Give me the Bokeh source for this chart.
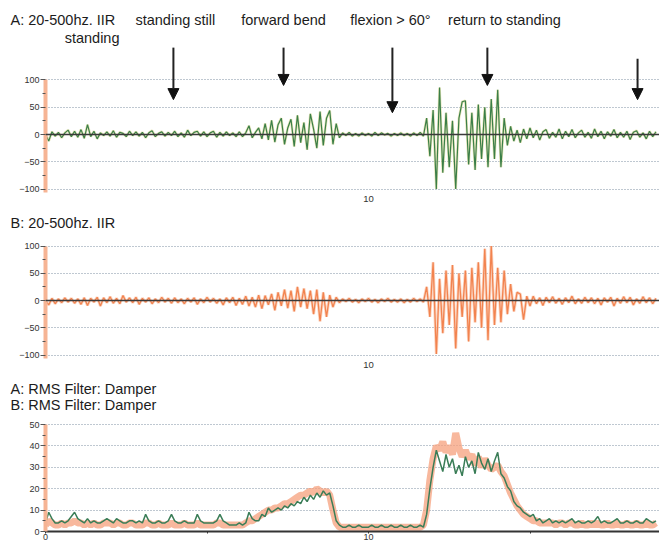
from bokeh.plotting import figure
from bokeh.layouts import column, row
from bokeh.models import Range1d, FixedTicker, Span, Label, Arrow, NormalHead
from bokeh.embed import file_html
from bokeh.resources import INLINE

# ---------------- data ----------------
sample_step = 0.1  # seconds between samples

a_iir = [
    0, -12, 5, -3, 4, -6, 3, 8, -4, 6,
    -5, 9, -7, 18, -4, 6, -8, 3, -2, 5,
    -3, 7, -5, 4, 2, -4, 6, -2, 5, -3,
    4, -6, 3, 7, -4, 2, 5, -3, 4, -2,
    6, -4, 3, -5, 8, -2, 4, 6, -3, 5,
    -4, 3, 6, -5, 4, -3, 5, -2, 3, -4,
    5, -4, 3, 16, -6, 4, 12, -8, 20, -10,
    26, -14, 18, 30, -18, 12, 28, -22, 35, -15,
    22, -28, 38, 10, -25, 42, -20, 30, 44, -18,
    20, -6, 3, -2, 4, -3, 2, -3, 3, -2,
    2, -3, 4, -2, 3, -1, 2, -3, 2, -2,
    3, -2, 2, -3, 3, -2, 4, -3, 30, -40,
    45, -100, 86, -70, 40, -60, 25, -100, 30, 60,
    62, -55, 40, -65, 55, -45, 50, -60, 65, -45,
    82, -60, 30, -20, 15, -12, 8, -15, 10, -8,
    12, -6, 8, -10, 5, 9, -7, 4, -5, 10,
    -8, 6, -4, 9, -6, 3, 8, -5, 4, -7,
    10, -4, 6, -8, 5, -3, 9, -6, 4, -5,
    6, -9, 4, 7, -5, 3, -8, 6, -4, 5,
]

b_iir = [
    0, -8, 4, -6, 3, -4, 5, -3, 4, -5,
    3, -7, 5, -9, 4, -3, 6, -10, 5, -4,
    7, -5, 4, -6, 9, -3, 5, -4, 6, -7,
    4, -3, 5, -6, 3, -4, 6, -3, 4, -5,
    5, -4, 3, -6, 4, -3, 5, -7, 3, -4,
    6, -3, 4, -5, 3, -8, 5, -4, 6, -9,
    4, -7, 8, -10, 6, -12, 10, -15, 9, -8,
    12, -18, 15, -10, 20, -14, 18, -20, 25, -12,
    22, -15, 18, -25, 20, -38, 15, -30, 10, -12,
    6, -4, 3, -2, 4, -3, 2, -4, 3, -2,
    4, -3, 2, -4, 3, -2, 4, -3, 2, -3,
    3, -4, 2, -3, 4, -2, 3, -3, 25, -30,
    70, -98, 40, -60, 55, -45, 65, -88, 50, -30,
    55, -75, 60, -40, 70, -50, 95, -73, 100, -45,
    60, -40, 55, -25, 30, -20, 15, 12, -35, 8,
    -10, 8, -6, 5, -9, 6, -4, 7, -5, 4,
    -7, 5, -4, 8, -6, 3, -5, 6, -4, 5,
    -6, 4, -8, 5, -3, 6, -10, 4, -5, 7,
    -4, 6, -8, 3, -5, 7, -4, 5, -6, 4,
]

a_rms = [
    4, 9, 6, 4, 4, 5, 4, 5, 7, 9,
    6, 5, 4, 6, 4, 5, 4, 4, 5, 6,
    5, 4, 6, 5, 4, 4, 5, 5, 4, 5,
    4, 8, 5, 4, 4, 5, 4, 4, 5, 8,
    5, 4, 4, 5, 4, 4, 4, 8, 5, 4,
    4, 4, 4, 5, 8, 5, 4, 3, 3, 3,
    4, 3, 4, 9, 6, 5, 5, 8, 7, 11,
    9, 10, 11, 10, 12, 11, 13, 12, 14, 13,
    16, 14, 17, 15, 18, 16, 19, 17, 18, 12,
    5, 3, 2, 2, 3, 2, 2, 3, 2, 2,
    2, 3, 2, 2, 3, 2, 2, 3, 2, 2,
    3, 2, 2, 3, 2, 2, 3, 2, 8, 20,
    30, 38, 33, 28, 36, 30, 34, 27, 31, 26,
    35, 30, 33, 27, 37, 32, 29, 34, 28, 33,
    37, 27, 25, 21, 19, 14, 12, 11, 9, 8,
    7, 8, 5, 6, 4, 5, 6, 4, 5, 4,
    5, 4, 5, 6, 4, 5, 4, 4, 5, 4,
    5, 7, 4, 5, 4, 4, 5, 6, 4, 4,
    5, 4, 4, 5, 4, 4, 6, 5, 4, 5,
]

b_rms = [
    3, 5, 4, 3, 3, 4, 3, 4, 4, 5,
    4, 4, 3, 4, 3, 4, 3, 3, 4, 4,
    4, 3, 4, 4, 3, 3, 4, 4, 3, 3,
    3, 4, 4, 3, 3, 4, 3, 3, 3, 4,
    3, 3, 3, 4, 3, 3, 3, 4, 3, 3,
    3, 3, 3, 4, 4, 3, 3, 3, 3, 3,
    3, 3, 4, 5, 5, 6, 7, 8, 9, 10,
    10, 11, 11, 12, 13, 13, 14, 15, 16, 17,
    17, 18, 19, 18, 20, 19, 18, 19, 17, 10,
    4, 2, 2, 2, 2, 2, 2, 2, 2, 2,
    2, 2, 2, 2, 2, 2, 2, 2, 2, 2,
    2, 2, 2, 2, 2, 2, 2, 3, 10, 24,
    34, 40, 38, 42, 37, 40, 36, 46, 39, 35,
    38, 34, 36, 31, 35, 30, 34, 31, 29, 30,
    31, 28, 26, 22, 18, 15, 12, 10, 8, 7,
    6, 5, 5, 4, 4, 4, 4, 4, 3, 4,
    4, 3, 4, 4, 3, 3, 4, 3, 3, 4,
    3, 4, 3, 3, 4, 3, 3, 4, 3, 3,
    4, 3, 3, 4, 3, 3, 4, 3, 3, 4,
]

t = [round(i * sample_step, 1) for i in range(len(a_iir))]

iir_ticks = [-100, -50, 0, 50, 100]
iir_minor = [-75, -25, 25, 75]
rms_ticks = [0, 10, 20, 30, 40, 50]
rms_minor = [5, 15, 25, 35, 45]

event_labels = ["standing still", "forward bend", "flexion > 60\u00b0", "return to standing"]
event_label_t = [4.02, 7.37, 10.68, 14.21]
arrow_t = [3.96, 7.37, 10.74, 13.68, 18.33]
arrow_top = [160, 160, 160, 160, 139]
arrow_tip = [64, 90, 40, 90, 64]

# ---------------- styling ----------------
FONT = "Liberation Sans"
TXT = "#1c1c1c"
GRID = "#7f90a3"
AXIS_ORANGE = "#f6b494"
LEFT = 45          # px to the left of the plot frames
PX_PER_S = 32.3    # horizontal scale
FW = 614
X_END = FW / PX_PER_S
X_START_HDR = -LEFT / PX_PER_S


def header(h):
    p = figure(frame_width=LEFT + FW, frame_height=h,
               x_range=Range1d(X_START_HDR, X_END), y_range=Range1d(0, h),
               output_backend="svg", toolbar_location=None,
               x_axis_location=None, y_axis_location=None,
               min_border_left=0, min_border_right=0, min_border_top=0,
               min_border_bottom=0)
    p.outline_line_color = None
    p.xgrid.visible = False
    p.ygrid.visible = False
    p.background_fill_color = "white"
    p.border_fill_color = "white"
    return p


def base_fig(frame_h, y0, y1, bottom_border):
    p = figure(frame_width=FW, frame_height=frame_h,
               x_range=Range1d(0, X_END), y_range=Range1d(y0, y1),
               output_backend="svg", toolbar_location=None,
               min_border_left=LEFT, min_border_right=0, min_border_top=0,
               min_border_bottom=bottom_border)
    p.outline_line_color = None
    p.background_fill_color = "white"
    p.border_fill_color = "white"
    p.xgrid.grid_line_color = None
    p.ygrid.grid_line_color = GRID
    p.ygrid.grid_line_dash = "1 2"
    p.ygrid.grid_line_width = 1.2
    p.yaxis.axis_line_color = AXIS_ORANGE
    p.yaxis.axis_line_width = 4
    p.yaxis.major_tick_line_color = "#555555"
    p.yaxis.minor_tick_line_color = "#555555"
    p.yaxis.major_tick_out = 5
    p.yaxis.major_tick_in = 0
    p.yaxis.minor_tick_out = 3
    p.yaxis.minor_tick_in = 0
    p.yaxis.major_label_standoff = 1
    p.yaxis.major_label_text_font = FONT
    p.yaxis.major_label_text_font_size = "9px"
    p.yaxis.major_label_text_color = "#333333"
    p.xaxis.major_label_text_font = FONT
    p.xaxis.major_label_text_font_size = "9.5px"
    p.xaxis.major_label_text_color = "#333333"
    return p


def title(p, text, x, y, align="left"):
    p.add_layout(Label(x=x, y=y, text=text, text_font=FONT, text_font_size="14.5px",
                       text_color=TXT, text_align=align, text_baseline="alphabetic"))


def iir_axes(p):
    p.yaxis.ticker = FixedTicker(ticks=iir_ticks, minor_ticks=iir_minor)
    p.ygrid.ticker = FixedTicker(ticks=[v for v in iir_ticks if v != 0])
    p.yaxis.bounds = (p.y_range.start, max(iir_ticks))
    p.xaxis.ticker = FixedTicker(ticks=[10])
    p.xaxis.axis_line_color = None
    p.xaxis.major_tick_line_color = None
    p.xaxis.major_tick_out = 0
    p.xaxis.major_tick_in = 0
    p.xaxis.minor_tick_line_color = None
    p.xaxis.major_label_standoff = 3
    p.add_layout(Span(location=0, dimension="width", line_color="#3a3a3a", line_width=1.6))


TITLE_X = (10 - LEFT) / PX_PER_S

# ---------------- Panel A ----------------
ha = header(47)
title(ha, "A: 20-500hz. IIR", TITLE_X, 28)
title(ha, "standing", (119 - LEFT) / PX_PER_S, 10, align="right")
for txt, x in zip(event_labels, event_label_t):
    title(ha, txt, x, 28, align="center")

pa = base_fig(145, -106.4, 159.6, 16)
iir_axes(pa)
pa.line(t, a_iir, line_color="#d9d58c", line_width=2.6, line_alpha=0.6)
pa.line(t, a_iir, line_color="#3b7f48", line_width=1.2)
for x, y0, y1 in zip(arrow_t, arrow_top, arrow_tip):
    pa.add_layout(Arrow(x_start=x, y_start=y0, x_end=x, y_end=y1,
                        line_color="#222222", line_width=2,
                        end=NormalHead(size=11, fill_color="#111111",
                                       line_color="#111111")))

# ---------------- Panel B ----------------
hb = header(24)
title(hb, "B: 20-500hz. IIR", TITLE_X, 10)

pb = base_fig(126, -106.4, 124.8, 16)
iir_axes(pb)
pb.line(t, b_iir, line_color="#f9c3a8", line_width=3.0, line_alpha=0.7)
pb.line(t, b_iir, line_color="#f2834f", line_width=1.3)

# ---------------- Panel C ----------------
hc = header(40)
title(hc, "A: RMS Filter: Damper", TITLE_X, 26)
title(hc, "B: RMS Filter: Damper", TITLE_X, 10)

pc = base_fig(117, 0, 54.7, 13)
pc.yaxis.ticker = FixedTicker(ticks=rms_ticks, minor_ticks=rms_minor)
pc.ygrid.ticker = FixedTicker(ticks=[v for v in rms_ticks if v != 0])
pc.yaxis.bounds = (0, max(rms_ticks))
pc.xaxis.ticker = FixedTicker(ticks=[0, 5, 10, 15])
pc.xaxis.major_label_overrides = {5: "", 15: ""}
pc.xaxis.axis_line_color = "#333333"
pc.xaxis.axis_line_width = 2
pc.xaxis.major_tick_line_color = "#333333"
pc.xaxis.major_tick_out = 2
pc.xaxis.major_tick_in = 0
pc.xaxis.major_label_text_font_size = "9px"
pc.xaxis.major_label_standoff = 0
pc.line(t, b_rms, line_color="#f5a07c", line_width=7, line_alpha=0.75)
pc.line(t, a_rms, line_color="#3a7d57", line_width=1.5)

layout = column(row(ha), row(pa), row(hb), row(pb), row(hc), row(pc), spacing=0)
open("out.html", "w").write(file_html(layout, INLINE))
